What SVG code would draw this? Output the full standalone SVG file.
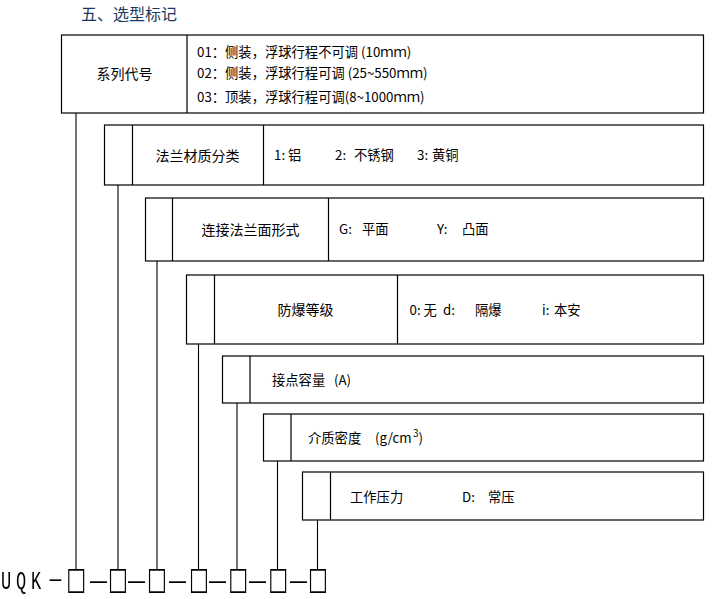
<svg xmlns="http://www.w3.org/2000/svg" width="715" height="599" viewBox="0 0 715 599">
<defs>
<filter id="gray" x="-5%" y="-50%" width="110%" height="200%"><feColorMatrix type="saturate" values="0"/></filter>
</defs>
<style>
.box{fill:#fff;stroke:#000;stroke-width:1.2}
.div{stroke:#000;stroke-width:1.2;fill:none}
.con{stroke:#000;stroke-width:1.1;fill:none}
text{font-family:"Noto Sans CJK SC","Liberation Sans",sans-serif;fill:#000}
.lab{font-size:14px;text-anchor:middle}
.opt{font-size:13.3px}
.title{font-size:16px;fill:#1b3a5e}
.code{font-size:16px}
.mono{font-family:"Liberation Mono",monospace;font-size:17px}
.cj{font-family:"Noto Sans CJK SC",sans-serif;font-size:16px}
.dj{font-family:"Liberation Sans",sans-serif;font-size:17px}
.sq{font-family:"DejaVu Sans",sans-serif;font-size:21px}
</style>
<rect width="715" height="599" fill="#fff"/>
<g id="title"><text class="title" x="81" y="19.5">五、选型标记</text></g>

<g id="connectors">
<line class="con" x1="76" y1="113" x2="76" y2="570"/>
<line class="con" x1="118" y1="185" x2="118" y2="570"/>
<line class="con" x1="157" y1="261" x2="157" y2="570"/>
<line class="con" x1="198.5" y1="344" x2="198.5" y2="570"/>
<line class="con" x1="237" y1="403" x2="237" y2="570"/>
<line class="con" x1="277.5" y1="461" x2="277.5" y2="570"/>
<line class="con" x1="317.5" y1="520" x2="317.5" y2="570"/>
</g>

<g id="node-series">
<rect class="box" x="61.5" y="35" width="642" height="78"/>
<line class="div" x1="187" y1="35" x2="187" y2="113"/>
<text class="lab" x="124.5" y="78.5">系列代号</text>
<text class="opt" x="197" y="56.7">01：侧装，浮球行程不可调 (10ｍｍ)</text>
<text class="opt" x="197" y="78.3">02：侧装，浮球行程可调 (25~550ｍｍ)</text>
<text class="opt" x="197" y="102.3">03：顶装，浮球行程可调(8~1000ｍｍ)</text>
</g>

<g id="node-flange-material">
<rect class="box" x="104.5" y="125" width="599" height="60"/>
<line class="div" x1="132.5" y1="125" x2="132.5" y2="185"/>
<line class="div" x1="263.5" y1="125" x2="263.5" y2="185"/>
<text class="lab" x="197.5" y="160.7">法兰材质分类</text>
<text class="opt" y="160.2"><tspan x="274">1: </tspan><tspan x="288">铝 </tspan><tspan x="335">2: </tspan><tspan x="354">不锈钢 </tspan><tspan x="417">3: </tspan><tspan x="432">黄铜</tspan></text>
</g>

<g id="node-flange-face">
<rect class="box" x="145.5" y="198" width="558" height="63"/>
<line class="div" x1="172.5" y1="198" x2="172.5" y2="261"/>
<line class="div" x1="328.5" y1="198" x2="328.5" y2="261"/>
<text class="lab" x="250.5" y="234.5">连接法兰面形式</text>
<text class="opt" y="234.2"><tspan x="339">G: </tspan><tspan x="362">平面 </tspan><tspan x="437">Y: </tspan><tspan x="462">凸面</tspan></text>
</g>

<g id="node-explosion">
<rect class="box" x="186.5" y="275" width="517" height="69"/>
<line class="div" x1="214.5" y1="275" x2="214.5" y2="344"/>
<line class="div" x1="397.5" y1="275" x2="397.5" y2="344"/>
<text class="lab" x="305.5" y="315">防爆等级</text>
<text class="opt" y="314.7"><tspan x="409.5">0:</tspan><tspan x="423.5">无 </tspan><tspan x="443">d: </tspan><tspan x="475">隔爆 </tspan><tspan x="542">i: </tspan><tspan x="554">本安</tspan></text>
</g>

<g id="node-contact">
<rect class="box" x="222.5" y="356" width="481" height="47"/>
<line class="div" x1="250" y1="356" x2="250" y2="403"/>
<text class="opt" x="272" y="384.5">接点容量 <tspan x="334">(A)</tspan></text>
</g>

<g id="node-density">
<rect class="box" x="263.5" y="414" width="440" height="47"/>
<line class="div" x1="291" y1="414" x2="291" y2="461"/>
<text class="opt" x="308" y="443">介质密度 <tspan x="375">(g/cm</tspan><tspan x="413" dy="-6" font-size="10px">3</tspan><tspan dy="6">)</tspan></text>
</g>

<g id="node-pressure">
<rect class="box" x="302.5" y="472" width="401" height="48"/>
<line class="div" x1="330.5" y1="472" x2="330.5" y2="520"/>
<text class="opt" x="350" y="501.5">工作压力 <tspan x="462">D: </tspan><tspan x="488">常压</tspan></text>
</g>

<g id="code" filter="url(#gray)">
<text class="code" transform="translate(0,589) scale(1,1.5)" y="0" x="1 16 31 47.5 66.3 90 108 128 147 169 189 209 228.3 249 268.3 290 308"><tspan class="mono">UQK</tspan><tspan class="cj">－</tspan><tspan class="sq">□</tspan><tspan class="dj">—</tspan><tspan class="sq">□</tspan><tspan class="dj">—</tspan><tspan class="sq">□</tspan><tspan class="dj">—</tspan><tspan class="sq">□</tspan><tspan class="dj">—</tspan><tspan class="sq">□</tspan><tspan class="dj">—</tspan><tspan class="sq">□</tspan><tspan class="dj">—</tspan><tspan class="sq">□</tspan></text>
</g>
</svg>
